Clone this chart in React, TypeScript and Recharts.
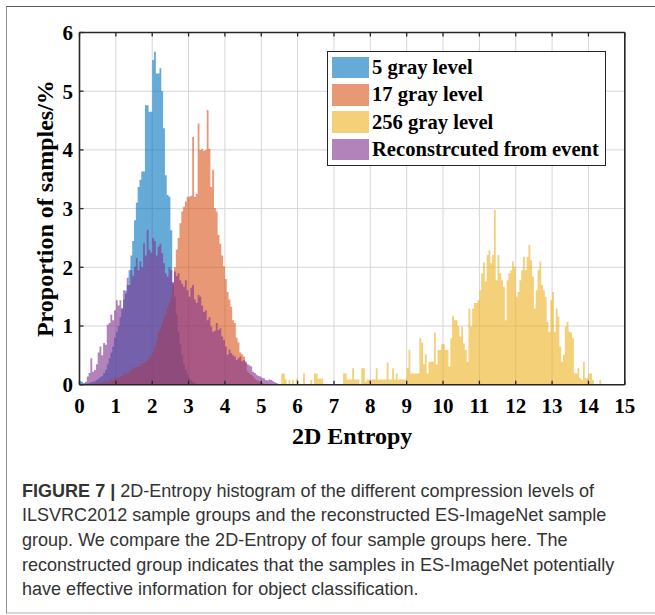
import { Area, CartesianGrid, ComposedChart, XAxis, YAxis } from "recharts";

// histogram bins are 0.05 wide; each series starts at its own first bin
const BIN_WIDTH = 0.05;
const X_MAX = 15;
const X_TICKS = [0, 1, 2, 3, 4, 5, 6, 7, 8, 9, 10, 11, 12, 13, 14, 15];
const Y_TICKS = [0, 1, 2, 3, 4, 5, 6];

const GRAY5_START = 0;
const GRAY5 = [
  0.06, 0.05, 0.03, 0.02, 0.02, 0.03, 0.04, 0.05, 0.06, 0.08, 0.1, 0.13, 0.15, 0.2, 0.25, 0.35, 0.45, 0.55, 0.65, 0.8,
  0.9, 1.0, 1.15, 1.3, 1.45, 1.6, 1.7, 1.95, 2.2, 2.45, 2.8, 3.1, 3.37, 3.49, 3.63, 3.63, 4.76, 4.76, 4.65, 4.65,
  5.53, 5.67, 5.3, 5.3, 5.39, 5.0, 4.37, 3.57, 3.23, 3.2, 2.63, 1.73, 1.5, 1.2, 0.9, 0.7, 0.5, 0.35, 0.25, 0.18,
  0.12, 0.08, 0.05, 0.03,
];

const GRAY17_START = 0.4;
const GRAY17 = [
  0.02, 0.03, 0.02, 0.04, 0.03, 0.04, 0.05, 0.05, 0.06, 0.1, 0.08, 0.12,
  0.1, 0.12, 0.14, 0.15, 0.2, 0.18, 0.2, 0.22, 0.25, 0.3, 0.28, 0.3, 0.3, 0.33, 0.36, 0.37, 0.4, 0.42, 0.48, 0.5,
  0.55, 0.65, 0.75, 0.9, 0.95, 1.05, 1.13, 1.2, 1.3, 1.39, 1.5, 1.7, 2.0, 2.3, 2.5, 2.75, 2.95, 3.03, 3.12, 3.2,
  3.2, 3.22, 4.22, 3.2, 3.25, 4.45, 4.0, 4.02, 3.98, 4.0, 4.68, 4.02, 3.37, 3.66, 3.01, 2.95, 2.55, 2.4, 2.2, 2.02,
  1.8, 1.58, 1.45, 1.33, 1.1, 1.05, 0.8, 0.72, 0.55, 0.52, 0.48, 0.4, 0.23, 0.2, 0.17, 0.14, 0.1, 0.08, 0.06, 0.05,
  0.03,
];

const GRAY256_START = 5.5;
const GRAY256 = [
  0, 0.19, 0.19, 0.09, 0, 0.08, 0, 0.08, 0, 0.1,
  0, 0, 0, 0.19, 0, 0, 0, 0.08, 0, 0.19, 0.19, 0.1, 0.1, 0.1, 0, 0, 0, 0, 0, 0,
  0, 0, 0, 0, 0, 0.19, 0.19, 0.09, 0.09, 0.09, 0.28, 0.09, 0.09, 0.09, 0, 0.28, 0.28, 0.05, 0.09, 0.09,
  0.09, 0.09, 0.09, 0.28, 0.09, 0.09, 0.09, 0.09, 0.09, 0.38, 0.09, 0.09, 0.28, 0.09, 0.19, 0.09, 0.09, 0.09, 0.09, 0.09,
  0.28, 0.59, 0.19, 0.19, 0.19, 0.19, 0.19, 0.79, 0.72, 0.35, 0.52, 0.19, 0.39, 0.39, 0.39, 0.89, 0.35, 0.59, 0.59, 0.69,
  0.69, 0.59, 0.59, 0.31, 0.79, 1.17, 1.1, 1.1, 0.99, 0.82, 0.99, 0.7, 0.59, 0.39, 1.3, 0.99, 1.3, 1.39, 1.39, 1.44,
  1.61, 1.9, 2.08, 1.76, 2.21, 2.29, 2.07, 2.21, 2.98, 1.78, 2.21, 1.9, 1.78, 1.67, 1.1, 1.78, 1.9, 1.95, 2.1, 2.01,
  1.5, 1.58, 1.78, 1.95, 2.18, 1.95, 2.18, 2.38, 2.12, 1.84, 1.3, 1.61, 1.95, 2.1, 1.7, 1.61, 1.5, 1.07, 0.9, 1.44,
  1.58, 0.9, 1.3, 1.16, 0.65, 0.39, 0.51, 0.99, 1.07, 0.9, 0.89, 0.79, 0.19, 0.19, 0.28, 0.11, 0.08, 0.39, 0.11, 0.11,
  0.19, 0.19, 0.08, 0, 0, 0, 0.08,
];

const EVENT_START = 0.15;
const EVENT = [
  0.05, 0.14, 0.2, 0.45, 0.22, 0.25, 0.35, 0.55, 0.65, 0.5, 0.71, 0.68, 1.02, 1.05, 1.19, 1.1, 1.27,
  1.44, 1.35, 1.44, 1.3, 1.61, 1.55, 1.82, 1.7, 1.95, 1.85, 2.01, 2.16, 1.95, 2.1, 2.0, 2.41, 2.2, 2.64, 2.3, 2.25,
  2.5, 2.45, 2.2, 2.35, 2.4, 2.24, 2.07, 1.9, 1.84, 2.0, 1.95, 1.75, 1.93, 1.85, 1.9, 1.78, 1.72, 1.67, 1.78, 1.61,
  1.5, 1.65, 1.7, 1.45, 1.39, 1.53, 1.5, 1.35, 1.24, 1.27, 1.1, 1.15, 0.99, 0.9, 0.92, 1.05, 0.93, 0.96, 0.82, 0.76,
  0.65, 0.51, 0.6, 0.54, 0.5, 0.48, 0.42, 0.45, 0.48, 0.4, 0.42, 0.38, 0.35, 0.33, 0.31, 0.22, 0.2, 0.17, 0.15, 0.14,
  0.12, 0.11, 0.08, 0.07, 0.09, 0.08, 0.06, 0.04, 0.03,
];

const SERIES = [
  { key: "g5", name: "5 gray level", color: "#0072BD", start: GRAY5_START, values: GRAY5 },
  { key: "g17", name: "17 gray level", color: "#D95319", start: GRAY17_START, values: GRAY17 },
  { key: "g256", name: "256 gray level", color: "#EDB120", start: GRAY256_START, values: GRAY256 },
  { key: "event", name: "Reconstrcuted from event", color: "#7E2F8E", start: EVENT_START, values: EVENT },
];

const FACE_ALPHA = 0.6;
const AXIS_COLOR = "#262626";
const SERIF = '"Liberation Serif", "Times New Roman", serif';
const SANS = '"Liberation Sans", Arial, Helvetica, sans-serif';

function valueAt(values: number[], start: number, i: number) {
  const j = i - Math.round(start / BIN_WIDTH);
  return j >= 0 && j < values.length ? values[j] : 0;
}

const binCount = Math.round(X_MAX / BIN_WIDTH);
const table = Array.from({ length: binCount + 1 }, (_, i) => {
  const row: Record<string, number> = { x: i * BIN_WIDTH };
  SERIES.forEach((s) => {
    row[s.key] = valueAt(s.values, s.start, i);
  });
  return row;
});

const tickFont = { fontFamily: SERIF, fontSize: 21, fontWeight: 700, fill: "#000" };
const labelFont = { fontFamily: SERIF, fontSize: 24, fontWeight: 700, fill: "#000" };
const tickLineStyle = { stroke: AXIS_COLOR, strokeWidth: 1.3 };
const axisLineStyle = { stroke: AXIS_COLOR, strokeWidth: 1.6 };

export default function App() {
  return (
    <div
      style={{
        position: "absolute",
        left: 0,
        top: 0,
        width: 655,
        height: 615,
        overflow: "hidden",
        background: "#fff",
      }}
    >
      {/* figure frame */}
      <div
        style={{
          position: "absolute",
          left: 6,
          top: 6,
          width: 680,
          height: 608,
          boxSizing: "border-box",
          borderTop: "1.5px solid #5a5a5a",
          borderLeft: "1.5px solid #8c8c8c",
          borderBottom: "2px solid #d6d6d6",
        }}
      />

      <div style={{ position: "absolute", left: 0, top: 0 }}>
        <ComposedChart
          width={655}
          height={460}
          data={table}
          margin={{ top: 31.5, right: 29.2, bottom: 74.3, left: 78.5 }}
        >
          <CartesianGrid xAxisId="b" yAxisId="l" stroke="#d6d6d6" strokeWidth={1} />
          {SERIES.map((s) => (
            <Area
              key={s.key}
              xAxisId="b"
              yAxisId="l"
              dataKey={s.key}
              name={s.name}
              type="stepAfter"
              fill={s.color}
              fillOpacity={FACE_ALPHA}
              stroke="none"
              dot={false}
              activeDot={false}
              isAnimationActive={false}
            />
          ))}
          <XAxis
            xAxisId="b"
            dataKey="x"
            type="number"
            domain={[0, X_MAX]}
            ticks={X_TICKS}
            interval={0}
            height={1}
            tickSize={-4}
            tickMargin={17.3}
            tick={tickFont}
            tickLine={tickLineStyle}
            axisLine={axisLineStyle}
            label={{ value: "2D Entropy", position: "bottom", offset: 41, style: labelFont }}
          />
          <XAxis
            xAxisId="t"
            orientation="top"
            dataKey="x"
            type="number"
            domain={[0, X_MAX]}
            ticks={X_TICKS}
            interval={0}
            height={1}
            tickSize={-4}
            tick={() => <g />}
            tickLine={tickLineStyle}
            axisLine={axisLineStyle}
          />
          <YAxis
            yAxisId="l"
            type="number"
            domain={[0, 6]}
            ticks={Y_TICKS}
            interval={0}
            width={1}
            tickSize={-4}
            tickMargin={10.5}
            tick={tickFont}
            tickLine={tickLineStyle}
            axisLine={axisLineStyle}
            label={{
              value: "Proportion of samples/%",
              angle: -90,
              position: "left",
              offset: 34.5,
              style: { ...labelFont, textAnchor: "middle" },
            }}
          />
          <YAxis
            yAxisId="r"
            orientation="right"
            type="number"
            domain={[0, 6]}
            ticks={Y_TICKS}
            interval={0}
            width={1}
            tickSize={-4}
            tick={() => <g />}
            tickLine={tickLineStyle}
            axisLine={axisLineStyle}
          />
        </ComposedChart>
      </div>

      {/* legend box */}
      <div
        style={{
          position: "absolute",
          left: 327,
          top: 51,
          width: 279,
          height: 115,
          boxSizing: "border-box",
          border: `1.4px solid ${AXIS_COLOR}`,
          background: "#fff",
          paddingTop: 2,
        }}
      >
        {SERIES.map((s) => (
          <div key={s.key} style={{ display: "flex", alignItems: "center", height: 27.3 }}>
            <span
              style={{
                display: "inline-block",
                marginLeft: 4,
                width: 37,
                height: 21.6,
                background: s.color,
                opacity: FACE_ALPHA,
              }}
            />
            <span
              style={{
                marginLeft: 3,
                fontFamily: SERIF,
                fontSize: 20.6,
                fontWeight: 700,
                color: "#000",
                whiteSpace: "nowrap",
              }}
            >
              {s.name}
            </span>
          </div>
        ))}
      </div>

      {/* caption */}
      <div
        style={{
          position: "absolute",
          left: 22,
          top: 478.5,
          fontFamily: SANS,
          fontSize: 18.05,
          lineHeight: "24.7px",
          color: "#333",
          whiteSpace: "nowrap",
        }}
      >
        <div>
          <b>FIGURE 7 |</b> 2D-Entropy histogram of the different compression levels of
        </div>
        <div>ILSVRC2012 sample groups and the reconstructed ES-ImageNet sample</div>
        <div>group. We compare the 2D-Entropy of four sample groups here. The</div>
        <div>reconstructed group indicates that the samples in ES-ImageNet potentially</div>
        <div>have effective information for object classification.</div>
      </div>
    </div>
  );
}
